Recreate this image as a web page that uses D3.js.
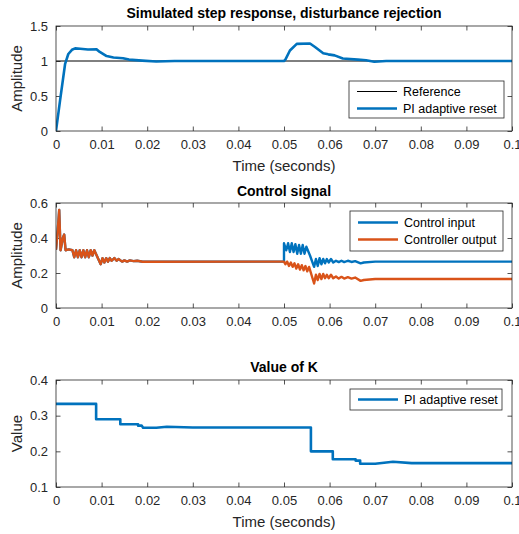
<!DOCTYPE html>
<html><head><meta charset="utf-8">
<script src="https://cdn.jsdelivr.net/npm/d3@7"></script>
<style>body{margin:0;background:#fff}svg{display:block}text{font-family:"Liberation Sans",Arial,Helvetica,sans-serif}</style>
</head><body>
<svg id="c" width="519" height="534"></svg>
<script>
// ---------- data ----------
const xTicks = [0,0.01,0.02,0.03,0.04,0.05,0.06,0.07,0.08,0.09,0.1];
const xTickLabels = ["0","0.01","0.02","0.03","0.04","0.05","0.06","0.07","0.08","0.09","0.1"];

const stepReference = [[0,1],[0.1,1]];
const stepResponse = [[0,0],[0.0009,0.44],[0.002,0.96],[0.0027,1.10],[0.0035,1.16],[0.0042,1.18],[0.0053,1.175],[0.007,1.165],[0.0089,1.166],[0.0096,1.13],[0.0111,1.07],[0.0126,1.05],[0.0147,1.04],[0.016,1.02],[0.0189,1.006],[0.022,0.993],[0.026,1.0],[0.05,1.0],[0.0503,1.02],[0.0513,1.15],[0.0528,1.245],[0.0557,1.25],[0.0568,1.2],[0.0586,1.11],[0.0597,1.095],[0.0611,1.08],[0.0629,1.035],[0.0662,1.02],[0.068,1.01],[0.0698,0.99],[0.0724,1.0],[0.1,1.0]];

const controlShared = [[0,0.333],[0.0004,0.45],[0.0007,0.56],[0.0010,0.33],[0.0015,0.40],[0.0018,0.42],[0.0021,0.33],[0.0028,0.335],[0.0036,0.33],[0.0040,0.29],[0.0044,0.33],[0.0048,0.29],[0.0052,0.33],[0.0056,0.29],[0.0060,0.33],[0.0064,0.29],[0.0068,0.33],[0.0072,0.29],[0.0076,0.33],[0.0080,0.30],[0.0084,0.33],[0.0098,0.25],[0.0102,0.285],[0.0106,0.26],[0.0110,0.285],[0.0114,0.265],[0.0118,0.285],[0.0122,0.27],[0.0128,0.285],[0.0133,0.27],[0.0137,0.28],[0.0145,0.265],[0.0150,0.272],[0.0156,0.265],[0.0162,0.272],[0.0170,0.268],[0.0178,0.27],[0.0190,0.264],[0.0200,0.264],[0.05,0.265]];
const controlInputAfter = [[0.05,0.37],[0.0505,0.33],[0.0509,0.37],[0.0513,0.32],[0.0517,0.37],[0.0521,0.32],[0.0525,0.365],[0.0529,0.31],[0.0533,0.36],[0.0537,0.31],[0.0541,0.36],[0.0545,0.31],[0.0549,0.35],[0.0557,0.30],[0.0566,0.235],[0.0570,0.28],[0.0574,0.24],[0.0578,0.285],[0.0582,0.25],[0.0586,0.28],[0.0590,0.255],[0.0594,0.28],[0.0598,0.26],[0.0603,0.28],[0.0608,0.26],[0.0614,0.27],[0.062,0.262],[0.0626,0.27],[0.0632,0.262],[0.064,0.27],[0.0648,0.263],[0.0656,0.268],[0.0668,0.255],[0.0675,0.26],[0.07,0.265],[0.1,0.265]];
const controllerOutputAfter = [[0.0503,0.25],[0.0507,0.265],[0.0511,0.24],[0.0515,0.26],[0.0519,0.235],[0.0523,0.255],[0.0527,0.225],[0.0531,0.25],[0.0535,0.22],[0.0539,0.245],[0.0543,0.215],[0.0547,0.24],[0.0551,0.21],[0.0555,0.235],[0.0566,0.14],[0.0570,0.19],[0.0574,0.16],[0.0578,0.195],[0.0582,0.165],[0.0586,0.195],[0.0590,0.17],[0.0594,0.19],[0.0598,0.17],[0.0603,0.19],[0.0608,0.17],[0.0614,0.18],[0.062,0.168],[0.0626,0.178],[0.0632,0.168],[0.064,0.176],[0.0648,0.168],[0.0656,0.174],[0.0668,0.155],[0.0675,0.16],[0.07,0.166],[0.1,0.166]];

const kValue = [[0,0.333],[0.0088,0.333],[0.0088,0.29],[0.0141,0.29],[0.0141,0.276],[0.018,0.276],[0.018,0.272],[0.0188,0.272],[0.0191,0.266],[0.022,0.266],[0.0243,0.269],[0.03,0.267],[0.0559,0.267],[0.0559,0.2],[0.0607,0.2],[0.0607,0.178],[0.0657,0.178],[0.0657,0.174],[0.0667,0.174],[0.0667,0.165],[0.07,0.165],[0.0739,0.171],[0.078,0.167],[0.1,0.167]];

const blue = "#0072BD", orange = "#D95319", axCol = "#262626";

// ---------- drawing ----------
const svg = d3.select("#c");
const X0 = 56, X1 = 512;

function panel(opt){
  const x = d3.scaleLinear().domain([0,0.1]).range([X0,X1]);
  const y = d3.scaleLinear().domain(opt.yDomain).range([opt.bottom,opt.top]);
  const g = svg.append("g");
  const id = "clip"+opt.name;
  svg.append("clipPath").attr("id",id).append("rect")
    .attr("x",X0).attr("y",opt.top).attr("width",X1-X0).attr("height",opt.bottom-opt.top);
  g.append("rect").attr("x",X0).attr("y",opt.top).attr("width",X1-X0).attr("height",opt.bottom-opt.top).attr("fill","#fff");

  // axes
  const tl = 4.5;
  const bx = d3.axisBottom(x).tickValues(xTicks).tickFormat((d,i)=>xTickLabels[i]).tickSizeInner(-tl).tickSizeOuter(0).tickPadding(9);
  const tx = d3.axisTop(x).tickValues(xTicks).tickFormat("").tickSizeInner(-tl).tickSizeOuter(0);
  const ly = d3.axisLeft(y).tickValues(opt.yTicks).tickFormat(d=>opt.yFmt(d)).tickSizeInner(-tl).tickSizeOuter(0).tickPadding(8);
  const ry = d3.axisRight(y).tickValues(opt.yTicks).tickFormat("").tickSizeInner(-tl).tickSizeOuter(0);
  const axes = [
    g.append("g").attr("transform",`translate(0,${opt.bottom})`).call(bx),
    g.append("g").attr("transform",`translate(0,${opt.top})`).call(tx),
    g.append("g").attr("transform",`translate(${X0},0)`).call(ly),
    g.append("g").attr("transform",`translate(${X1},0)`).call(ry)
  ];
  axes.forEach(a=>{
    a.select(".domain").remove();
    a.selectAll("line").attr("stroke",axCol).attr("stroke-width",0.8);
    a.selectAll("text").attr("fill",axCol).style("font-size","13px");
  });

  const line = d3.line().x(d=>x(d[0])).y(d=>y(d[1]));
  const lg = g.append("g").attr("clip-path",`url(#${id})`);
  opt.series.forEach(s=>{
    lg.append("path").datum(s.data).attr("d",line).attr("fill","none")
      .attr("stroke",s.color).attr("stroke-width",s.w).attr("stroke-linejoin","round");
  });

  g.append("rect").attr("x",X0).attr("y",opt.top).attr("width",X1-X0).attr("height",opt.bottom-opt.top)
    .attr("fill","none").attr("stroke",axCol).attr("stroke-width",0.8);

  // title
  g.append("text").attr("x",(X0+X1)/2).attr("y",opt.titleY).attr("text-anchor","middle")
    .style("font-size","14px").style("font-weight","bold").attr("fill","#000").text(opt.title);
  // y label
  g.append("text").attr("transform",`translate(22,${(opt.top+opt.bottom)/2}) rotate(-90)`)
    .attr("text-anchor","middle").style("font-size","15px").attr("fill",axCol).text(opt.yLabel);
  if(opt.xLabel){
    g.append("text").attr("x",(X0+X1)/2).attr("y",opt.xLabelY).attr("text-anchor","middle")
      .style("font-size","15px").attr("fill",axCol).text(opt.xLabel);
  }
  // legend
  const L = opt.legend;
  const lgG = g.append("g");
  lgG.append("rect").attr("x",L.x).attr("y",L.y).attr("width",L.w).attr("height",L.h)
    .attr("fill","#fff").attr("stroke",axCol).attr("stroke-width",0.8);
  L.items.forEach((it,i)=>{
    const cy = L.y + L.pad + i*L.step;
    lgG.append("line").attr("x1",L.x+8).attr("x2",L.x+48).attr("y1",cy).attr("y2",cy)
      .attr("stroke",it.color).attr("stroke-width",it.w);
    lgG.append("text").attr("x",L.x+54).attr("y",cy+4.5).style("font-size","12.5px").attr("fill","#000").text(it.label);
  });
}

panel({
  name:"a", top:26, bottom:131, yDomain:[0,1.5], yTicks:[0,0.5,1,1.5], yFmt:d=>String(d),
  title:"Simulated step response, disturbance rejection", titleY:18, yLabel:"Amplitude",
  xLabel:"Time (seconds)", xLabelY:171,
  series:[{data:stepReference,color:"#000",w:1},{data:stepResponse,color:blue,w:2.6}],
  legend:{x:349,y:81,w:155,h:37,pad:10.5,step:17,items:[{label:"Reference",color:"#000",w:1},{label:"PI adaptive reset",color:blue,w:2.6}]}
});
panel({
  name:"b", top:203, bottom:308, yDomain:[0,0.6], yTicks:[0,0.2,0.4,0.6], yFmt:d=>String(d),
  title:"Control signal", titleY:196, yLabel:"Amplitude",
  series:[{data:controlShared.concat(controlInputAfter),color:blue,w:2.4},{data:controlShared.concat(controllerOutputAfter),color:orange,w:2.4}],
  legend:{x:350,y:211,w:153,h:40,pad:11.5,step:17,items:[{label:"Control input",color:blue,w:2.6},{label:"Controller output",color:orange,w:2.6}]}
});
panel({
  name:"c", top:380, bottom:487, yDomain:[0.1,0.4], yTicks:[0.1,0.2,0.3,0.4], yFmt:d=>String(d),
  title:"Value of K", titleY:372, yLabel:"Value",
  xLabel:"Time (seconds)", xLabelY:527,
  series:[{data:kValue,color:blue,w:2.6}],
  legend:{x:350,y:389,w:152,h:21,pad:10.5,step:17,items:[{label:"PI adaptive reset",color:blue,w:2.6}]}
});
</script>
</body></html>
